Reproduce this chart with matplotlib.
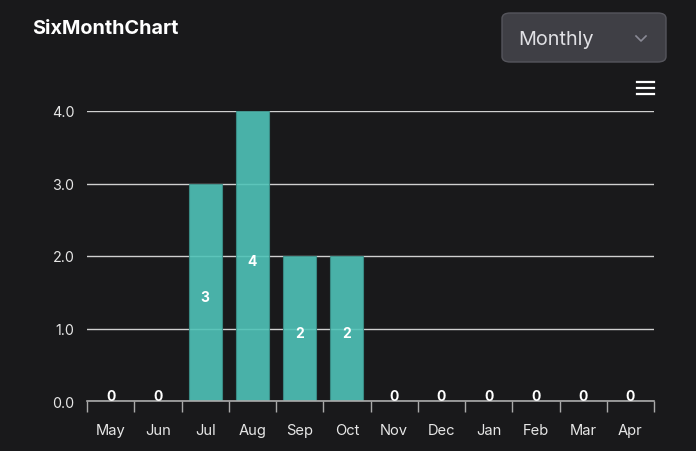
import matplotlib
matplotlib.use("Agg")
import matplotlib.pyplot as plt
from matplotlib.patches import FancyBboxPatch
from matplotlib.lines import Line2D
import numpy as np

plt.rcParams['font.family'] = ['Inter', 'DejaVu Sans']

months = ["May", "Jun", "Jul", "Aug", "Sep", "Oct", "Nov", "Dec", "Jan", "Feb", "Mar", "Apr"]
values = [0, 0, 3, 4, 2, 2, 0, 0, 0, 0, 0, 0]
yticks = [0.0, 1.0, 2.0, 3.0, 4.0]
title = "SixMonthChart"
dropdown_label = "Monthly"

BG = "#19191b"
fig = plt.figure(figsize=(6.96, 4.52), dpi=100, facecolor=BG)
ax = fig.add_axes([87/696, 1-402/452, (654-87)/696, (402-112)/452])
ax.set_facecolor(BG)

x = np.arange(len(months))
bars = ax.bar(x, values, width=0.7, color="#4fc3b8", alpha=0.9,
              edgecolor="#3a8f88", linewidth=0.8, zorder=3)

for xi, v in zip(x, values):
    if v > 0:
        ax.annotate(f"{v}", (xi, v / 2), xytext=(0, -3.6), textcoords="offset points",
                    ha="center", va="center", color="white", fontsize=10,
                    fontweight="bold", zorder=5)
    else:
        ax.annotate(f"{v}", (xi, 0), xytext=(0, 3.6), textcoords="offset points",
                    ha="center", va="center", color="white", fontsize=10,
                    fontweight="bold", zorder=5)

ax.set_xlim(-0.5, len(months) - 0.5)
ax.set_ylim(0, 4.0)
ax.set_yticks(yticks)
ax.set_yticklabels([f"{t:.1f}" for t in yticks])
ax.yaxis.grid(True, color="#d0d0d0", linewidth=1.0, zorder=1)
ax.set_axisbelow(True)

ax.set_xticks(np.arange(-0.5, len(months), 1.0))
ax.set_xticklabels([])
ax.set_xticks(x, minor=True)
ax.set_xticklabels(months, minor=True)
ax.tick_params(axis="x", which="major", length=8, width=1, color="#aaaaaa", direction="out")
ax.tick_params(axis="x", which="minor", length=0, pad=16, labelsize=10.6, labelcolor="#e6e6e6")
ax.tick_params(axis="y", length=0, pad=9, labelsize=10.3, labelcolor="#e6e6e6")

for s in ["top", "right", "left"]:
    ax.spines[s].set_visible(False)
ax.spines["bottom"].set_color("#aaaaaa")
ax.spines["bottom"].set_linewidth(1.2)
ax.spines["bottom"].set_zorder(4)

# title
fig.text(32/696, 1-29.5/452, title, color="white", fontsize=14.3, fontweight="bold",
         ha="left", va="center")

# dropdown
box = FancyBboxPatch((502/696, 1-63/452), (666-502)/696, (63-14)/452,
                     boxstyle="round,pad=0,rounding_size=0.012",
                     transform=fig.transFigure, facecolor="#3f3f45",
                     edgecolor="#55555c", linewidth=1)
fig.patches.append(box)
fig.text(518/696, 1-40/452, dropdown_label, color="#e0e0e4", fontsize=14.3,
         ha="left", va="center")
fig.lines.append(Line2D([636/696, 641/696, 646/696], [1-37/452, 1-42/452, 1-37/452],
                        transform=fig.transFigure, color="#8a8a95", linewidth=1.2))

# hamburger icon
for yy in [83, 89, 95]:
    fig.lines.append(Line2D([637/696, 654/696], [1-yy/452, 1-yy/452],
                            transform=fig.transFigure, color="white", linewidth=1.6))

fig.savefig("out.png", dpi=100, facecolor=BG)
